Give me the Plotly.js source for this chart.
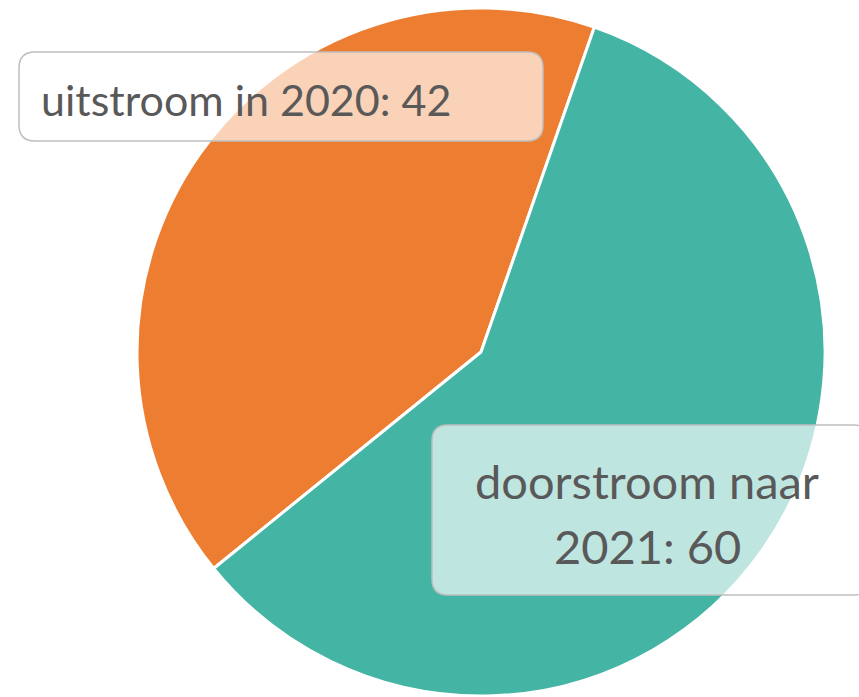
<!DOCTYPE html>
<html>
<head>
<meta charset="utf-8">
<script src="https://cdn.plot.ly/plotly-3.0.1.min.js"></script>
<style>
  html, body { margin: 0; padding: 0; background: #ffffff; }
  #chart { width: 859px; height: 697px; }
</style>
</head>
<body>
<div id="chart"></div>
<script>
const labels = ["uitstroom in 2020", "doorstroom naar 2021"];
const values = [42, 60];
const sliceColors = ["#ED7D31", "#44B4A4"];
const labelLines = ["uitstroom in 2020: 42", "doorstroom naar", "2021: 60"];

const W = 859, H = 697;
const px = x => x / W;
const py = y => 1 - y / H;

// rounded box drawn as a path in paper units, from pixel corners
function roundedBox(x0, y0, x1, y1, r) {
  const rx = r / W, ry = r / H;
  const a = px(x0), b = px(x1), t = py(y0), u = py(y1);
  return `M ${a + rx},${t} L ${b - rx},${t} Q ${b},${t} ${b},${t - ry} ` +
    `L ${b},${u + ry} Q ${b},${u} ${b - rx},${u} L ${a + rx},${u} ` +
    `Q ${a},${u} ${a},${u + ry} L ${a},${t - ry} Q ${a},${t} ${a + rx},${t} Z`;
}

const boxes = [
  { x0: 19, y0: 52, x1: 543, y1: 141 },
  { x0: 432, y0: 425, x1: 870, y1: 595 }
];

const textSpots = [
  { tx: 246, ty: 99, size: 43 },
  { tx: 647, ty: 481, size: 47 },
  { tx: 647, ty: 546, size: 47 }
];

const shapes = boxes.map(b => ({
  type: "path",
  xref: "paper",
  yref: "paper",
  path: roundedBox(b.x0, b.y0, b.x1, b.y1, 16),
  fillcolor: "rgba(255,255,255,0.66)",
  line: { color: "#bfbfbf", width: 1.5 },
  layer: "above"
}));

const annotations = textSpots.map((s, i) => ({
  xref: "paper",
  yref: "paper",
  x: px(s.tx),
  y: py(s.ty),
  xanchor: "center",
  yanchor: "middle",
  text: labelLines[i],
  showarrow: false,
  align: "center",
  font: { family: "Lato, 'Open Sans', sans-serif", size: s.size, color: "#595959" }
}));

Plotly.newPlot("chart", [
  {
    type: "pie",
    labels: labels,
    values: values,
    sort: false,
    direction: "clockwise",
    rotation: 231,
    textinfo: "none",
    hoverinfo: "label+value",
    domain: { x: [137 / W, 825 / W], y: [py(696), py(8)] },
    marker: {
      colors: sliceColors,
      line: { color: "#ffffff", width: 3 }
    }
  }
], {
  width: W,
  height: H,
  margin: { l: 0, r: 0, t: 0, b: 0 },
  paper_bgcolor: "#ffffff",
  showlegend: false,
  shapes: shapes,
  annotations: annotations
}, {
  displayModeBar: false
});
</script>
</body>
</html>
